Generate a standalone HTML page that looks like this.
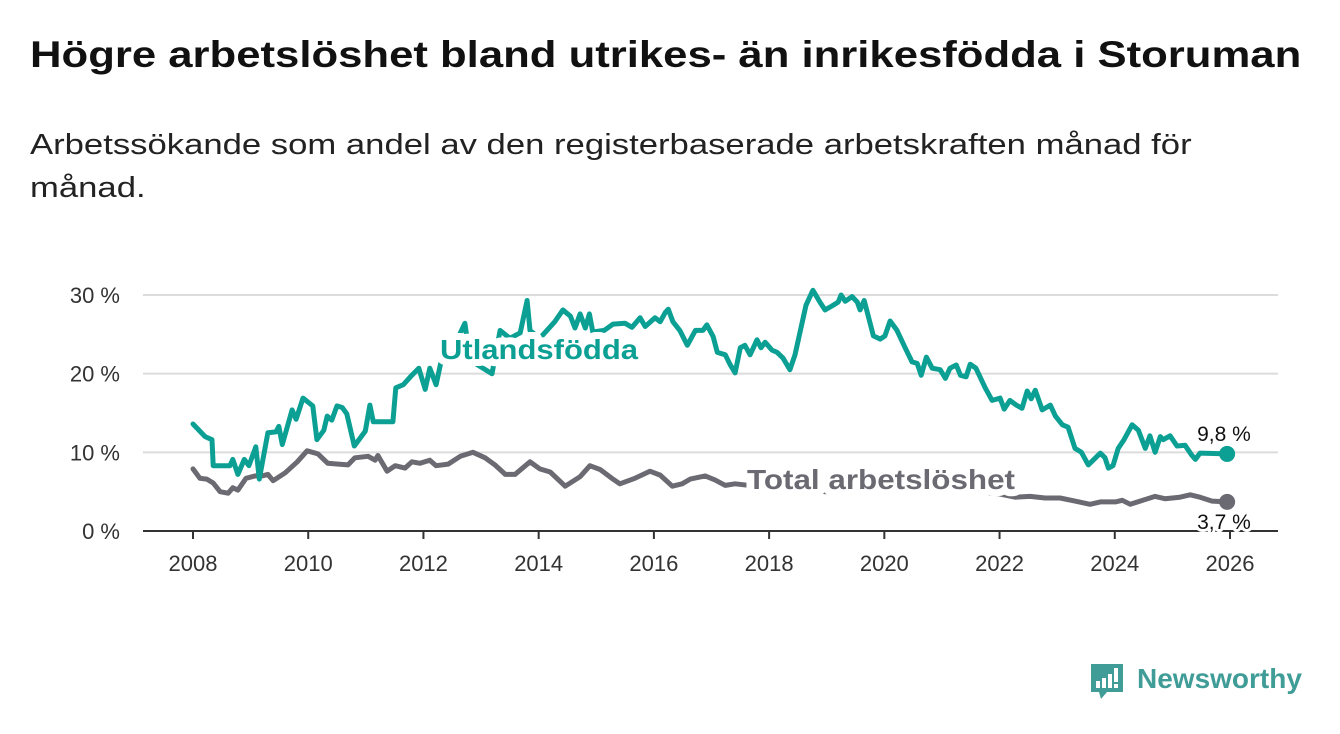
<!DOCTYPE html>
<html><head><meta charset="utf-8">
<style>
html,body{margin:0;padding:0;background:#fff;width:1340px;height:734px;overflow:hidden}
body{font-family:"Liberation Sans",sans-serif;position:relative}
#title{position:absolute;left:30px;top:34px;font-size:37px;font-weight:bold;color:#111;margin:0;white-space:nowrap;transform-origin:0 0;transform:scaleX(1.18)}
.sub{position:absolute;left:30px;font-size:29px;color:#222;margin:0;white-space:nowrap;transform-origin:0 0;transform:scaleX(1.195)}
svg{position:absolute;left:0;top:0}
</style></head><body>
<h1 id="title">Högre arbetslöshet bland utrikes- än inrikesfödda i Storuman</h1>
<div>
<p class="sub" style="top:129px">Arbetssökande som andel av den registerbaserade arbetskraften månad för</p>
<p class="sub" style="top:172px">månad.</p>
</div>
<svg id="chart" width="1340" height="734"></svg>
<script>
const yTicks=[0,10,20,30];
const yTickLabels=["0 %","10 %","20 %","30 %"];
const xTicks=[2008,2010,2012,2014,2016,2018,2020,2022,2024,2026];
const utlDates=[2008.00,2008.21,2008.33,2008.35,2008.64,2008.69,2008.78,2008.89,2008.97,2009.09,2009.15,2009.30,2009.44,2009.49,2009.55,2009.72,2009.79,2009.91,2010.08,2010.15,2010.27,2010.33,2010.41,2010.50,2010.59,2010.67,2010.80,2010.99,2011.07,2011.13,2011.47,2011.52,2011.65,2011.80,2011.92,2012.03,2012.11,2012.22,2012.31,2012.46,2012.72,2012.81,2013.19,2013.33,2013.50,2013.68,2013.80,2013.85,2014.02,2014.28,2014.42,2014.55,2014.63,2014.72,2014.81,2014.88,2014.94,2015.14,2015.29,2015.50,2015.62,2015.76,2015.85,2016.02,2016.11,2016.20,2016.25,2016.33,2016.45,2016.58,2016.72,2016.85,2016.92,2017.03,2017.10,2017.24,2017.32,2017.41,2017.50,2017.58,2017.67,2017.79,2017.86,2017.93,2018.05,2018.14,2018.24,2018.36,2018.45,2018.64,2018.76,2018.89,2018.97,2019.09,2019.20,2019.25,2019.32,2019.44,2019.53,2019.58,2019.65,2019.81,2019.93,2020.01,2020.10,2020.22,2020.36,2020.48,2020.57,2020.64,2020.73,2020.83,2020.97,2021.06,2021.14,2021.25,2021.32,2021.42,2021.49,2021.59,2021.75,2021.87,2022.01,2022.08,2022.18,2022.29,2022.39,2022.48,2022.55,2022.62,2022.74,2022.88,2022.97,2023.09,2023.19,2023.31,2023.42,2023.54,2023.75,2023.83,2023.89,2023.97,2024.06,2024.16,2024.30,2024.41,2024.53,2024.61,2024.70,2024.79,2024.84,2024.96,2025.08,2025.22,2025.33,2025.40,2025.48,2025.95];
const utlValues=[13.6,12.0,11.6,8.3,8.3,9.1,7.2,9.1,8.3,10.7,6.6,12.5,12.6,13.3,11.0,15.4,14.2,16.9,15.9,11.6,12.8,14.6,14.1,15.9,15.7,14.9,10.8,12.7,16.0,13.9,13.9,18.2,18.6,19.8,20.7,18.0,20.7,18.6,21.7,22.4,26.4,21.7,20.0,25.5,24.5,25.2,29.3,25.5,24.5,26.6,28.1,27.3,25.8,27.6,25.8,27.6,25.3,25.5,26.3,26.4,25.9,27.1,26.0,27.1,26.6,27.8,28.2,26.6,25.5,23.6,25.5,25.5,26.2,24.7,22.7,22.4,21.2,20.1,23.3,23.6,22.4,24.3,23.3,24.0,23.0,22.7,22.0,20.5,22.4,28.7,30.6,29.0,28.1,28.6,29.1,30.0,29.2,29.8,29.1,28.1,29.3,24.8,24.4,24.8,26.7,25.5,23.3,21.5,21.3,19.8,22.1,20.7,20.5,19.4,20.7,21.1,19.8,19.6,21.2,20.7,18.2,16.6,16.9,15.5,16.6,16.0,15.6,17.8,16.8,17.9,15.4,16.0,14.6,13.5,13.2,10.5,10.0,8.4,9.9,9.3,8.0,8.3,10.5,11.6,13.5,12.8,10.5,12.1,10.0,12.0,11.6,12.1,10.8,10.9,9.7,9.1,9.9,9.8];
const totDates=[2008.00,2008.12,2008.24,2008.35,2008.47,2008.61,2008.69,2008.78,2008.92,2009.08,2009.20,2009.30,2009.39,2009.60,2009.81,2009.98,2010.17,2010.34,2010.52,2010.69,2010.81,2011.04,2011.16,2011.21,2011.37,2011.51,2011.68,2011.80,2011.94,2012.11,2012.22,2012.43,2012.64,2012.86,2013.07,2013.24,2013.42,2013.59,2013.85,2014.02,2014.20,2014.46,2014.72,2014.89,2015.07,2015.27,2015.41,2015.67,2015.93,2016.11,2016.32,2016.49,2016.63,2016.89,2017.06,2017.24,2017.41,2018.0,2019.0,2020.0,2021.0,2022.01,2022.27,2022.53,2022.79,2023.05,2023.31,2023.57,2023.75,2024.01,2024.13,2024.27,2024.44,2024.70,2024.87,2025.13,2025.31,2025.48,2025.69,2025.95];
const totValues=[7.9,6.7,6.6,6.1,5.0,4.8,5.5,5.2,6.7,7.0,7.0,7.2,6.4,7.4,8.8,10.2,9.8,8.6,8.5,8.4,9.3,9.5,9.0,9.6,7.6,8.3,8.0,8.8,8.6,9.0,8.3,8.5,9.5,10.0,9.3,8.4,7.2,7.2,8.8,7.9,7.5,5.7,6.9,8.3,7.8,6.7,6.0,6.7,7.6,7.1,5.7,6.0,6.6,7.0,6.5,5.8,6.0,5.5,5.0,6.0,5.5,4.7,4.3,4.4,4.2,4.2,3.8,3.4,3.7,3.7,3.9,3.4,3.8,4.4,4.1,4.3,4.6,4.3,3.8,3.7];
const utlLast="9,8 %", totLast="3,7 %";

const NS="http://www.w3.org/2000/svg";
const svg=document.getElementById('chart');
const X0=143,X1=1278;
const xs=d=>193+(d-2008)*(1230-193)/18;
const ys=v=>531-v*(531-295)/30;
function mk(tag,attrs,parent){const e=document.createElementNS(NS,tag);for(const k in attrs)e.setAttribute(k,attrs[k]);(parent||svg).appendChild(e);return e;}
const TEAL="#0ba093",GRAY="#6b6a72";
yTicks.forEach((t,i)=>{
  if(t>0){const g=mk('line',{x1:X0,x2:X1,y1:ys(t),y2:ys(t),stroke:'#dcdcdc','stroke-width':2});
  
  }
  const l=mk('text',{x:120,y:ys(t)+8,'text-anchor':'end','font-size':22,fill:'#333','font-family':'Liberation Sans, sans-serif'});
  l.textContent=yTickLabels[i];
  
  
});
xTicks.forEach(t=>{
  const tk=mk('line',{x1:xs(t),x2:xs(t),y1:531,y2:539,stroke:'#333','stroke-width':2});
  
  
  const l=mk('text',{x:xs(t),y:571,'text-anchor':'middle','font-size':22,fill:'#333','font-family':'Liberation Sans, sans-serif'});
  l.textContent=t;
  
  
});
function line(d,v,c,name){
  const p=mk('path',{d:d.map((x,i)=>(i?'L':'M')+xs(x).toFixed(1)+','+ys(v[i]).toFixed(1)).join(''),fill:'none',stroke:c,'stroke-width':5,'stroke-linejoin':'round','stroke-linecap':'round'});
  
  
  const n=d.length-1;
  const dot=mk('circle',{cx:xs(d[n]),cy:ys(v[n]),r:8,fill:c});
  
  
}
line(totDates,totValues,GRAY,'total-line');
line(utlDates,utlValues,TEAL,'utlandsfodda-line');
const ax=mk('line',{x1:X0,x2:X1,y1:531,y2:531,stroke:'#333','stroke-width':2});


function label(txt,x,y,size,c,bold,name,w){
  const a={x:x,y:y,'font-size':size,fill:c,'font-weight':bold?'bold':'normal',stroke:'#fff','stroke-width':bold?14:6,'paint-order':'stroke','stroke-linejoin':'round','font-family':'Liberation Sans, sans-serif'};
  if(w){a.textLength=w;a.lengthAdjust='spacingAndGlyphs';}
  const t=mk('text',a);
  t.textContent=txt;
  
  
}
label('Utlandsfödda',440,359,28,TEAL,true,'series-label-utlandsfodda',198);
label('Total arbetslöshet',747,489,28,GRAY,true,'series-label-total',268);
const n1=utlDates.length-1,n2=totDates.length-1;
label(utlLast,xs(utlDates[n1])-30,ys(utlValues[n1])-13,21,'#111',false,'value-label-utlandsfodda');
label(totLast,xs(totDates[n2])-30,ys(totValues[n2])+27,21,'#111',false,'value-label-total');
</script>
<div style="position:absolute;left:1089px;top:662px;width:230px;height:44px">
  <svg width="40" height="44" style="position:absolute;left:0;top:0">
    <path d="M2 2 H34 V30 H18 L12 37 L10 30 H2 Z" fill="#3f9c96"/>
    <rect x="7" y="19" width="4" height="7" fill="#fff"/><rect x="13" y="16" width="4" height="10" fill="#fff"/><rect x="19" y="12" width="4" height="14" fill="#fff"/><rect x="25" y="6" width="4" height="14" fill="#fff"/><rect x="25" y="22" width="4" height="4" fill="#fff"/>
  </svg>
  <span style="position:absolute;left:48px;top:0;font-size:28px;font-weight:bold;color:#3f9c96;font-family:'Liberation Sans',sans-serif;line-height:34px">Newsworthy</span>
</div>
</body></html>
